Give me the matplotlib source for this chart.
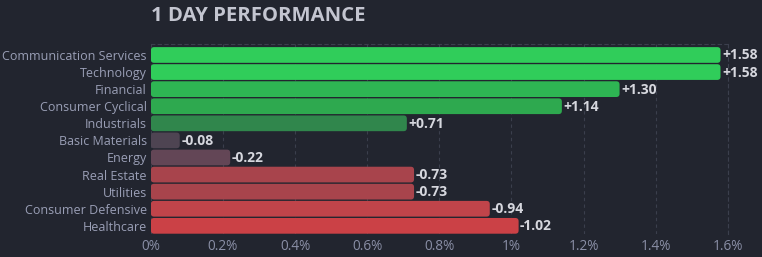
import matplotlib.pyplot as plt
from matplotlib.patches import FancyBboxPatch

sectors = ['Communication Services', 'Technology', 'Financial', 'Consumer Cyclical',
           'Industrials', 'Basic Materials', 'Energy', 'Real Estate', 'Utilities',
           'Consumer Defensive', 'Healthcare']
changes = [1.58, 1.58, 1.30, 1.14, 0.71, -0.08, -0.22, -0.73, -0.73, -0.94, -1.02]
colors = ['#30cd5a', '#30cd5a', '#2eb553', '#2ea94f', '#30864c', '#4e4452',
          '#634656', '#a8444c', '#a8444c', '#c0444a', '#cb4146']
ticks = [0, 0.2, 0.4, 0.6, 0.8, 1.0, 1.2, 1.4, 1.6]
tick_labels = ['0%', '0.2%', '0.4%', '0.6%', '0.8%', '1%', '1.2%', '1.4%', '1.6%']

bg = '#22252f'
plt.rcParams['font.family'] = ['Open Sans', 'DejaVu Sans']

fig = plt.figure(figsize=(7.62, 2.57), dpi=100, facecolor=bg)
ax = fig.add_axes([0.198, 0.088, 0.757, 0.740], facecolor=bg)

y = list(range(len(sectors)))
vals = [abs(v) for v in changes]
bars = ax.barh(y, vals, height=0.92, color=colors)
ax.set_xlim(0, 1.6)
ax.set_ylim(len(sectors) - 0.5, -0.63)

# swap plain bars for rounded ones
for b in bars:
    x0, y0 = b.get_x(), b.get_y()
    w, h = b.get_width(), b.get_height()
    b.set_visible(False)
    p = FancyBboxPatch((x0, y0), w, h, boxstyle='round,pad=0,rounding_size=0.009',
                       mutation_aspect=21, facecolor=b.get_facecolor(),
                       edgecolor='none', zorder=3)
    ax.add_patch(p)

for yi, v, w in zip(y, changes, vals):
    ax.text(w + 0.004, yi + 0.03, f'{v:+.2f}', va='center', ha='left', fontsize=10,
            fontweight='bold', color='#d6d7de', zorder=4)

ax.set_yticks(y)
ax.set_yticklabels(sectors, fontsize=9, color='#9a9fb6')
ax.set_xticks(ticks)
ax.set_xticklabels(tick_labels, fontsize=9.8, color='#8a8fa6')
ax.tick_params(length=0, pad=3)
ax.tick_params(axis='y', pad=3)
ax.grid(axis='x', color='#3b3f4d', linestyle=(0, (3, 3)), linewidth=0.8, zorder=0)
ax.set_axisbelow(True)

for s in ['left', 'bottom']:
    ax.spines[s].set_visible(False)
for s in ['top', 'right']:
    ax.spines[s].set_color('#3b3f4d')
    ax.spines[s].set_linestyle((0, (3, 3)))
    ax.spines[s].set_linewidth(0.8)

fig.text(0.198, 0.936, '1 DAY PERFORMANCE', fontsize=14.6, fontweight='bold',
         color='#c3c5d0', ha='left', va='center')

fig.savefig('out.png', dpi=100, facecolor=bg)
